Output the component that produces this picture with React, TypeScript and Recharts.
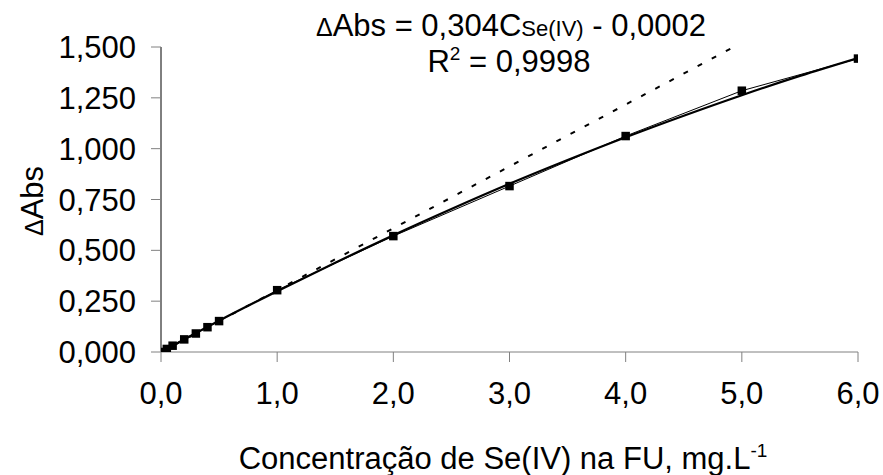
import React from 'react';
import { ComposedChart, Line, XAxis, YAxis } from 'recharts';

const concentrations = [0, 0.05, 0.1, 0.2, 0.3, 0.4, 0.5, 1, 2, 3, 4, 5, 6];
const absorbances = [0.0, 0.015, 0.031, 0.062, 0.091, 0.122, 0.152, 0.304, 0.57, 0.816, 1.062, 1.285, 1.443];

const fitX = [0, 0.5, 1, 1.5, 2, 2.5, 3, 3.5, 4, 4.5, 5, 5.5, 6];
const fitY = [0, 0.154, 0.299, 0.439, 0.574, 0.703, 0.827, 0.944, 1.056, 1.162, 1.263, 1.358, 1.446];

const linearX = [0, 4.93];
const linearY = [-0.0002, 1.5];

const xTicks = [0, 1, 2, 3, 4, 5, 6];
const yTicks = [0, 0.25, 0.5, 0.75, 1.0, 1.25, 1.5];

const pointsData = concentrations.map((x, i) => ({ x, y: absorbances[i] }));
const fitData = fitX.map((x, i) => ({ x, y: fitY[i] }));
const linearData = linearX.map((x, i) => ({ x, y: linearY[i] }));

const FONT = '"Liberation Sans", Arial, sans-serif';
const FS = 31;

const SquareDot = (props: any) => {
  const { cx, cy } = props;
  if (cx == null || cy == null) return null;
  return <rect x={cx - 4.25} y={cy - 4.25} width={8.5} height={8.5} fill="#000" />;
};

export default function App() {
  return (
    <div style={{ position: 'absolute', left: 0, top: 0, width: 883, height: 475, background: '#fff', fontFamily: FONT }}>
      <ComposedChart
        width={883}
        height={475}
        margin={{ top: 47, right: 25, bottom: 0, left: 0 }}
        style={{ fontFamily: FONT }}
      >
        <XAxis
          type="number"
          dataKey="x"
          domain={[0, 6]}
          ticks={xTicks}
          allowDataOverflow
          height={123}
          tickSize={10}
          tickMargin={20}
          stroke="#808080"
          tick={{ fill: '#000', fontSize: FS, fontFamily: FONT }}
          tickFormatter={(v: number) => v.toFixed(1).replace('.', ',')}
        />
        <YAxis
          type="number"
          dataKey="y"
          domain={[0, 1.5]}
          ticks={yTicks}
          allowDataOverflow
          width={161}
          tickSize={10}
          tickMargin={15}
          axisLine={{ stroke: '#000' }}
          tickLine={{ stroke: '#808080' }}
          tick={{ fill: '#000', fontSize: FS, fontFamily: FONT }}
          tickFormatter={(v: number) => v.toFixed(3).replace('.', ',')}
        />
        <Line
          data={linearData}
          dataKey="y"
          type="linear"
          stroke="#000"
          strokeWidth={2}
          strokeDasharray="5 11"
          dot={false}
          isAnimationActive={false}
        />
        <Line
          data={fitData}
          dataKey="y"
          type="monotone"
          stroke="#000"
          strokeWidth={2.2}
          dot={false}
          isAnimationActive={false}
        />
        <Line
          data={pointsData}
          dataKey="y"
          type="linear"
          stroke="#000"
          strokeWidth={1}
          dot={<SquareDot />}
          isAnimationActive={false}
        />
      </ComposedChart>
      <svg
        width={883}
        height={475}
        style={{ position: 'absolute', left: 0, top: 0, pointerEvents: 'none' }}
      >
        <text x={511} y={36} textAnchor="middle" fontFamily={FONT} fontSize={FS} fill="#000">
          <tspan fontSize={25}>Δ</tspan>
          <tspan>Abs = 0,304C</tspan>
          <tspan fontSize={22}>Se(IV)</tspan>
          <tspan> - 0,0002</tspan>
        </text>
        <text x={509} y={72} textAnchor="middle" fontFamily={FONT} fontSize={FS} fill="#000">
          <tspan>R</tspan>
          <tspan fontSize={19} dy={-12}>2</tspan>
          <tspan dy={12}> = 0,9998</tspan>
        </text>
        <text x={503} y={469} textAnchor="middle" fontFamily={FONT} fontSize={FS} fill="#000">
          <tspan>Concentração de Se(IV) na FU, mg.L</tspan>
          <tspan fontSize={19} dy={-12}>-1</tspan>
        </text>
        <text
          x={0}
          y={0}
          transform="translate(43,201) rotate(-90)"
          textAnchor="middle"
          fontFamily={FONT}
          fontSize={FS}
          fill="#000"
        >
          <tspan fontSize={25}>Δ</tspan>
          <tspan>Abs</tspan>
        </text>
      </svg>
    </div>
  );
}
